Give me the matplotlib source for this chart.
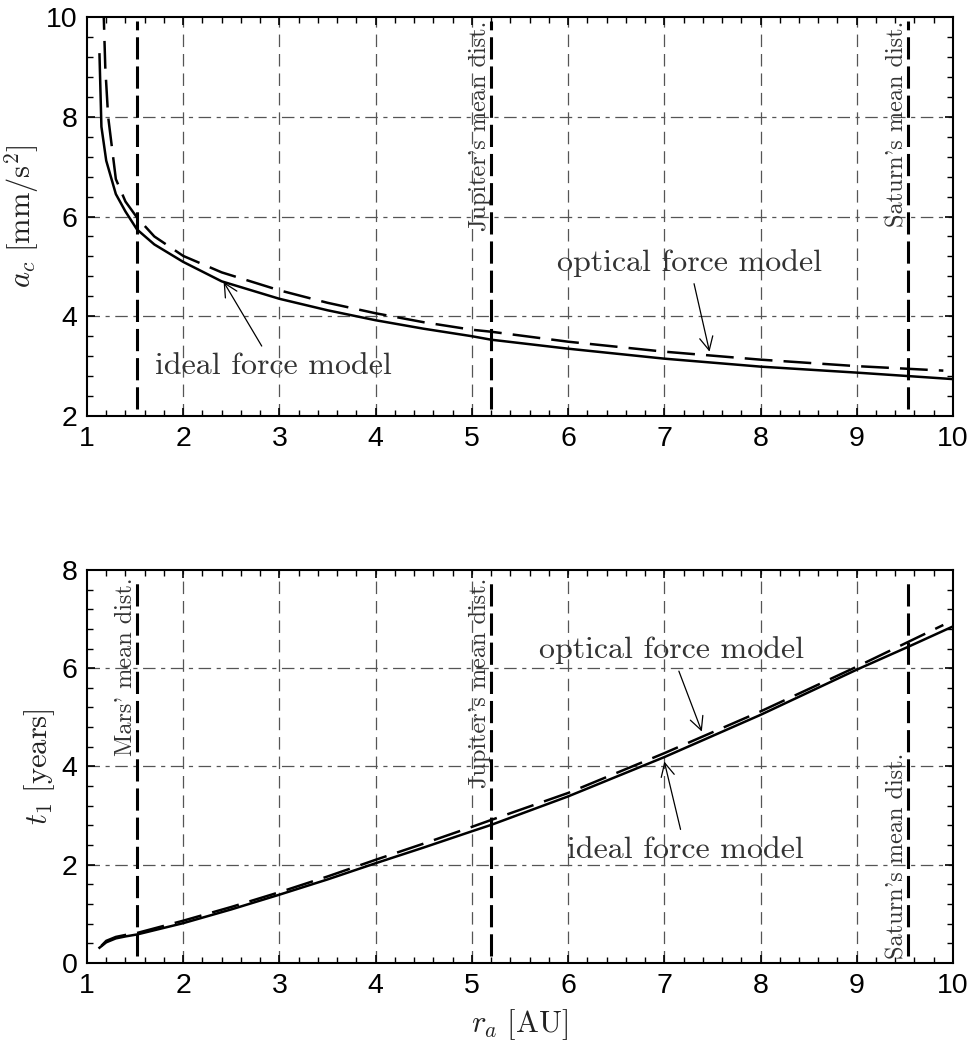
import matplotlib
matplotlib.use("Agg")
import matplotlib.pyplot as plt

plt.rcParams['lines.scale_dashes'] = False
plt.rcParams['mathtext.fontset'] = 'cm'
plt.rcParams['font.family'] = ['Liberation Sans', 'DejaVu Sans']

# top panel: characteristic acceleration a_c [mm/s^2] vs r_a [AU]
ac_ideal_r = [1.13, 1.15, 1.2, 1.3, 1.4, 1.52, 1.7, 2.0, 2.4, 3.0, 3.5, 4.0, 4.5,
              5.0, 5.2, 6.0, 7.0, 8.0, 9.0, 9.54, 10.0]
ac_ideal = [9.25, 7.8, 7.12, 6.45, 6.1, 5.74, 5.44, 5.09, 4.7, 4.35, 4.12, 3.92, 3.75,
            3.6, 3.53, 3.35, 3.15, 2.99, 2.87, 2.8, 2.74]
ac_opt_r = [1.17, 1.19, 1.22, 1.3, 1.4, 1.52, 1.7, 2.0, 2.4, 3.0, 3.5, 4.0, 4.5,
            5.0, 5.2, 6.0, 7.0, 8.0, 9.0, 9.9]
ac_opt = [10.3, 9.0, 8.0, 6.75, 6.3, 5.98, 5.6, 5.21, 4.88, 4.52, 4.27, 4.06, 3.88,
          3.73, 3.69, 3.49, 3.29, 3.13, 3.0, 2.91]

# bottom panel: time t_1 [years] vs r_a [AU]
t1_ideal_r = [1.13, 1.2, 1.3, 1.4, 1.52, 2.0, 2.5, 3.0, 3.5, 4.0, 4.5, 5.0, 5.2,
              6.0, 7.0, 8.0, 9.0, 9.54, 10.0]
t1_ideal = [0.31, 0.42, 0.5, 0.54, 0.58, 0.81, 1.09, 1.39, 1.7, 2.03, 2.35, 2.68, 2.81,
            3.39, 4.19, 5.05, 5.97, 6.44, 6.85]
t1_opt_r = [1.15, 1.2, 1.3, 1.4, 1.52, 2.0, 2.5, 3.0, 3.5, 4.0, 4.5, 5.0, 5.2,
            6.0, 7.0, 8.0, 9.0, 9.9]
t1_opt = [0.35, 0.45, 0.53, 0.57, 0.61, 0.86, 1.14, 1.44, 1.76, 2.1, 2.43, 2.77, 2.91,
          3.46, 4.27, 5.12, 6.03, 6.88]

planet_r = [1.524, 5.203, 9.537]
planet_names = ["Mars' mean dist.", "Jupiter's mean dist.", "Saturn's mean dist."]

txt_col = '#333333'
serif = 'cmr10'
arrow = dict(arrowstyle='->', color='k', lw=0.9, mutation_scale=24, shrinkA=3, shrinkB=0)

fig = plt.figure(figsize=(9.74, 10.5), dpi=100)
ax1 = fig.add_axes([0.0893, 0.6038, 0.8891, 0.38])
ax2 = fig.add_axes([0.0893, 0.0829, 0.8891, 0.3743])


def style(ax, ymin, ymax, ystep, yminor):
    ax.set_xlim(1, 10)
    ax.set_ylim(ymin, ymax)
    ax.set_xticks(range(1, 11))
    ax.set_yticks(range(ymin, ymax + 1, ystep))
    ax.set_xticks([1 + 0.2 * i for i in range(46)], minor=True)
    ax.set_yticks([ymin + yminor * i for i in range(int((ymax - ymin) / yminor) + 1)], minor=True)
    ax.tick_params(which='both', direction='in', top=True, right=True, labelsize=20.5, pad=7)
    ax.tick_params(which='major', length=6, width=1.2)
    ax.tick_params(which='minor', length=4, width=1.0)
    for s in ax.spines.values():
        s.set_linewidth(1.5)
    for xv in range(2, 10):
        ax.axvline(xv, color='#555555', lw=0.9, dashes=(9, 5), zorder=1)
    for yv in range(ymin + ystep, ymax, ystep):
        ax.axhline(yv, color='#555555', lw=0.9, dashes=(9, 4, 3, 4), zorder=1)


style(ax1, 2, 10, 2, 0.4)
style(ax2, 0, 8, 2, 0.4)

# top panel
for xv in planet_r:
    ax1.plot([xv, xv], [2.15, 9.93], color='k', lw=2.2, dashes=(16, 5), zorder=3)
ax1.plot(ac_ideal_r, ac_ideal, color='k', lw=1.8, zorder=4)
ax1.plot(ac_opt_r, ac_opt, color='k', lw=1.8, dashes=(20, 8), zorder=4)
ax1.text(5.2, 9.92, planet_names[1], rotation=90, ha='right', va='top',
         fontsize=17.5, family=serif, color=txt_col)
ax1.text(9.537, 9.92, planet_names[2], rotation=90, ha='right', va='top',
         fontsize=17.5, family=serif, color=txt_col)
ax1.annotate('ideal force model', xy=(2.42, 4.69), xytext=(2.94, 3.0),
             ha='center', va='center', fontsize=23, family=serif, color=txt_col,
             arrowprops=arrow)
ax1.annotate('optical force model', xy=(7.47, 3.29), xytext=(7.26, 5.07),
             ha='center', va='center', fontsize=23, family=serif, color=txt_col,
             arrowprops=arrow)
ax1.set_ylabel(r'$a_c\ [\mathrm{mm/s}^2]$', fontsize=22, color='#222222', labelpad=3)

# bottom panel
for xv in planet_r:
    ax2.plot([xv, xv], [0.14, 7.83], color='k', lw=2.2, dashes=(16, 5), zorder=3)
ax2.plot(t1_ideal_r, t1_ideal, color='k', lw=1.8, zorder=4)
ax2.plot(t1_opt_r, t1_opt, color='k', lw=1.8, dashes=(20, 8), zorder=4)
ax2.text(1.524, 7.85, planet_names[0], rotation=90, ha='right', va='top',
         fontsize=17.5, family=serif, color=txt_col)
ax2.text(5.2, 7.85, planet_names[1], rotation=90, ha='right', va='top',
         fontsize=17.5, family=serif, color=txt_col)
ax2.text(9.537, 4.27, planet_names[2], rotation=90, ha='right', va='top',
         fontsize=17.5, family=serif, color=txt_col)
ax2.annotate('optical force model', xy=(7.39, 4.71), xytext=(7.07, 6.36),
             ha='center', va='center', fontsize=23, family=serif, color=txt_col,
             arrowprops=arrow)
ax2.annotate('ideal force model', xy=(7.0, 4.1), xytext=(7.22, 2.3),
             ha='center', va='center', fontsize=23, family=serif, color=txt_col,
             arrowprops=arrow)
ax2.set_ylabel(r'$t_1\ [\mathrm{years}]$', fontsize=22, color='#222222', labelpad=3)
ax2.set_xlabel(r'$r_a\ [\mathrm{AU}]$', fontsize=22, color='#222222', labelpad=6)

fig.savefig('out.png', dpi=100)
